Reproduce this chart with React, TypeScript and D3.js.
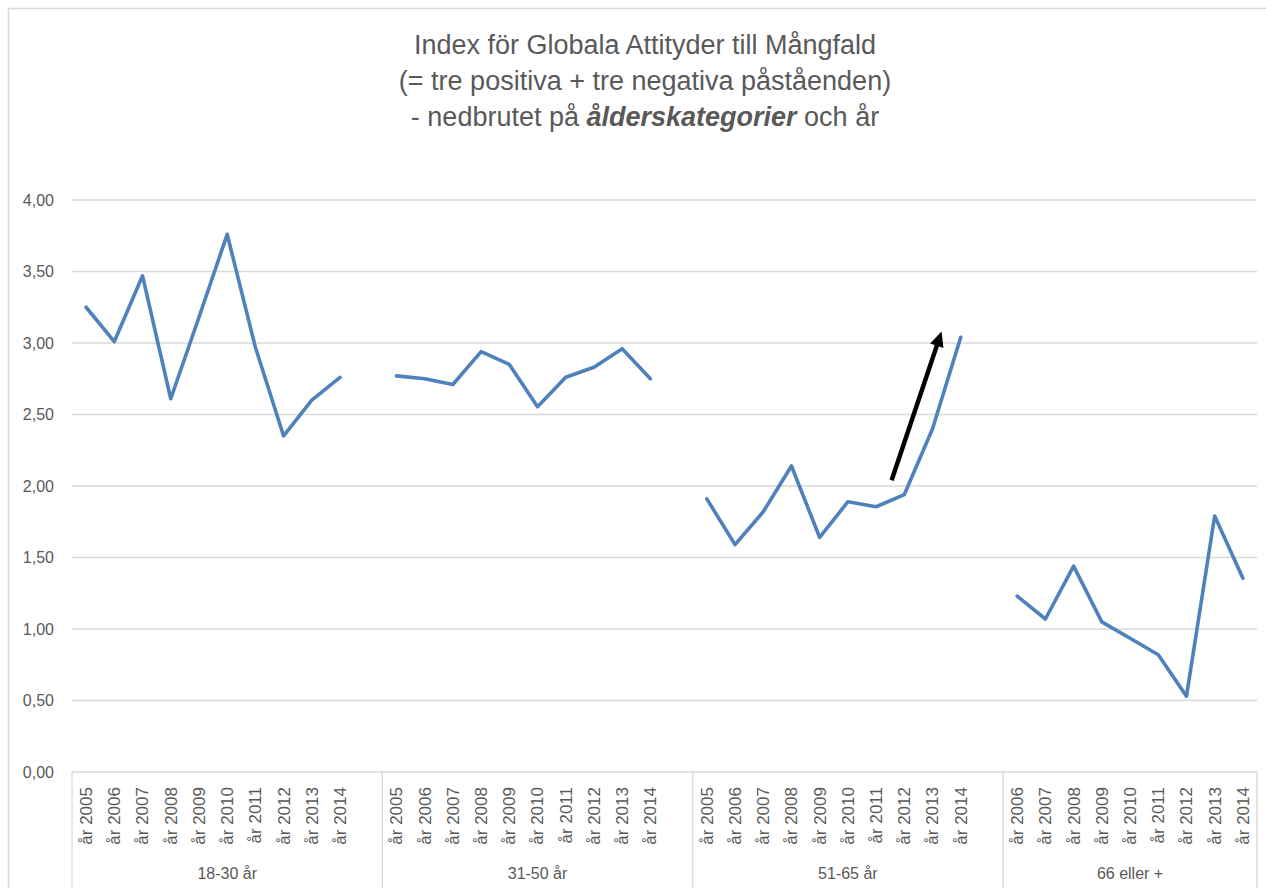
import React from "react";
import * as d3 from "d3";

const groups = ["18-30 år", "31-50 år", "51-65 år", "66 eller +"];
const years1830 = ["år 2005", "år 2006", "år 2007", "år 2008", "år 2009", "år 2010", "år 2011", "år 2012", "år 2013", "år 2014"];
const years3150 = ["år 2005", "år 2006", "år 2007", "år 2008", "år 2009", "år 2010", "år 2011", "år 2012", "år 2013", "år 2014"];
const years5165 = ["år 2005", "år 2006", "år 2007", "år 2008", "år 2009", "år 2010", "år 2011", "år 2012", "år 2013", "år 2014"];
const years66 = ["år 2006", "år 2007", "år 2008", "år 2009", "år 2010", "år 2011", "år 2012", "år 2013", "år 2014"];

const values1830 = [3.25, 3.01, 3.47, 2.61, 3.18, 3.76, 2.97, 2.35, 2.6, 2.76];
const values3150 = [2.77, 2.75, 2.71, 2.94, 2.85, 2.555, 2.76, 2.83, 2.96, 2.75];
const values5165 = [1.91, 1.59, 1.82, 2.14, 1.64, 1.89, 1.855, 1.94, 2.4, 3.04];
const values66 = [1.23, 1.07, 1.44, 1.05, 0.935, 0.82, 0.53, 1.79, 1.355];

// blank trailing category slots per group (empty rows in the source table)
const blankSlots = [1, 1, 1, 0];

const yTicks = [0, 0.5, 1, 1.5, 2, 2.5, 3, 3.5, 4];

// arrow annotation in data coordinates: [slot position, value]
const arrowFrom = [28.55, 2.04];
const arrowTo = [30.32, 3.08];

const titleLine1 = "Index för Globala Attityder till Mångfald";
const titleLine2 = "(= tre positiva + tre negativa påståenden)";

const W = 1266;
const H = 888;
const FONT = "'Liberation Sans', Arial, sans-serif";
const TEXT = "#595959";
const GRID = "#d9d9d9";
const LINE = "#4f81bd";

export default function App() {
  const groupYears = [years1830, years3150, years5165, years66];
  const groupValues = [values1830, values3150, values5165, values66];

  type Slot = { group: number; label: string | null; value: number | null };
  const slots: Slot[] = [];
  const groupRanges: { start: number; end: number }[] = [];
  groupYears.forEach((ys, gi) => {
    const start = slots.length;
    ys.forEach((lab, i) => slots.push({ group: gi, label: lab, value: groupValues[gi][i] }));
    for (let b = 0; b < blankSlots[gi]; b++) slots.push({ group: gi, label: null, value: null });
    groupRanges.push({ start, end: slots.length });
  });

  const left = 72;
  const right = 1257;
  const x = d3
    .scaleBand<number>()
    .domain(d3.range(slots.length))
    .range([left, right])
    .padding(0);
  const bw = x.bandwidth();
  const cx = (i: number) => left + (i + 0.5) * bw;
  const y = d3.scaleLinear().domain([0, 4]).range([772, 200]);
  const fmt = (v: number) => d3.format(".2f")(v).replace(".", ",");

  const line = d3
    .line<{ i: number; v: number | null }>()
    .defined((d) => d.v !== null)
    .x((d) => cx(d.i))
    .y((d) => y(d.v as number));

  const paths = groupRanges.map((r) =>
    line(d3.range(r.start, r.end).map((i) => ({ i, v: slots[i].value })))
  );

  const ax1 = cx(arrowFrom[0]);
  const ay1 = y(arrowFrom[1]);
  const ax2 = cx(arrowTo[0]);
  const ay2 = y(arrowTo[1]);
  const dx = ax2 - ax1;
  const dy = ay2 - ay1;
  const len = Math.sqrt(dx * dx + dy * dy);
  const ux = dx / len;
  const uy = dy / len;
  const headL = 15;
  const headW = 7;
  const bx = ax2 - ux * headL;
  const by = ay2 - uy * headL;
  const head = [
    [ax2, ay2],
    [bx - uy * headW, by + ux * headW],
    [bx + uy * headW, by - ux * headW],
  ]
    .map((p) => p.join(","))
    .join(" ");

  const boundaries = [left, ...groupRanges.map((r) => left + r.end * bw)];

  return (
    <svg
      width={W}
      height={H}
      style={{ position: "absolute", left: 0, top: 0, background: "#fff" }}
      fontFamily={FONT}
    >
      <rect x={0} y={0} width={W} height={H} fill="#fff" />
      <rect x={8.5} y={8.5} width={W + 20} height={H + 20} fill="none" stroke={GRID} strokeWidth={1.5} />

      <g fill={TEXT} fontSize={27} textAnchor="middle">
        <text x={645} y={54}>{titleLine1}</text>
        <text x={645} y={90}>{titleLine2}</text>
        <text x={645} y={126}>
          - nedbrutet på <tspan fontWeight="bold" fontStyle="italic">ålderskategorier</tspan> och år
        </text>
      </g>

      {yTicks.map((t) => (
        <g key={t}>
          <line x1={left} x2={right} y1={y(t)} y2={y(t)} stroke={GRID} strokeWidth={1.3} />
          <text x={54} y={y(t)} dy="0.35em" textAnchor="end" fill={TEXT} fontSize={16}>
            {fmt(t)}
          </text>
        </g>
      ))}

      {boundaries.map((b, i) => (
        <line key={i} x1={b} x2={b} y1={772} y2={H} stroke={GRID} strokeWidth={1.3} />
      ))}

      {slots.map((s, i) =>
        s.label ? (
          <text
            key={i}
            transform={`translate(${cx(i)},787) rotate(-90)`}
            textAnchor="end"
            dy="0.35em"
            fill={TEXT}
            fontSize={17}
          >
            {s.label}
          </text>
        ) : null
      )}

      {groupRanges.map((r, gi) => (
        <text
          key={gi}
          x={left + ((r.start + r.end) / 2) * bw}
          y={879}
          textAnchor="middle"
          fill={TEXT}
          fontSize={16}
        >
          {groups[gi]}
        </text>
      ))}

      {paths.map((p, i) => (
        <path key={i} d={p || ""} fill="none" stroke={LINE} strokeWidth={3.6} strokeLinejoin="round" strokeLinecap="round" />
      ))}

      <line x1={ax1} y1={ay1} x2={bx + ux * 2} y2={by + uy * 2} stroke="#000" strokeWidth={4.5} />
      <polygon points={head} fill="#000" />
    </svg>
  );
}
